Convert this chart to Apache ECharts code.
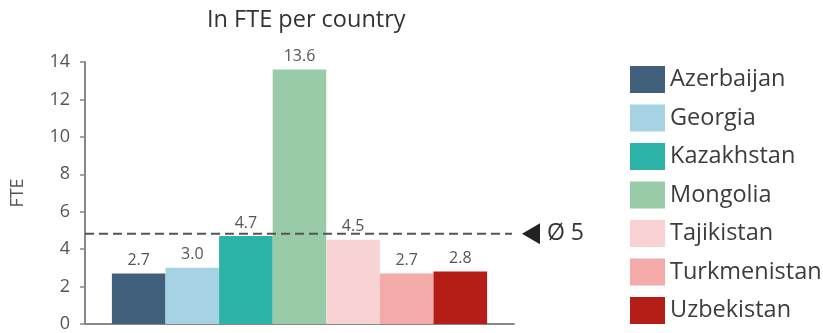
<!DOCTYPE html>
<html><head><meta charset="utf-8">
<script src="https://cdn.jsdelivr.net/npm/echarts@6/dist/echarts.min.js"></script>
<style>html,body{margin:0;padding:0;background:#fff}#c{width:823px;height:333px}</style>
</head><body><div id="c"></div>
<script>
const countries = ['Azerbaijan','Georgia','Kazakhstan','Mongolia','Tajikistan','Turkmenistan','Uzbekistan'];
const fteValues = [2.7, 3.0, 4.7, 13.6, 4.5, 2.7, 2.8];
const colors = ['#41607c','#a6d3e3','#2ab3a6','#9acba9','#f9d3d3','#f4aaa8','#b51d17'];
const yTicks = {min:0, max:14, interval:2};
const avg = fteValues.reduce((a,b)=>a+b,0)/fteValues.length;
const avgLabel = 'Ø ' + Math.round(avg);
const FONT = '"Open Sans", "Noto Sans", sans-serif';

const chart = echarts.init(document.getElementById('c'), null, {renderer:'canvas'});
const barSeries = countries.map((name,i)=>({
  name, type:'bar', xAxisIndex:0, yAxisIndex:0,
  data:[fteValues[i]], barWidth:53.6, barGap:'0%',
  itemStyle:{color:colors[i]},
  label:{show:true, position:'top', distance:5, fontFamily:FONT, fontSize:16, color:'#555',
    formatter:p=>p.value.toFixed(1)}
}));
chart.setOption({
  animation:false,
  textStyle:{fontFamily:FONT},
  title:{text:'In FTE per country', left:207, top:8, padding:0,
    textStyle:{fontFamily:FONT, fontSize:23.5, fontWeight:'normal', color:'#333'}},
  legend:{orient:'vertical', left:630, top:66, padding:0, itemWidth:35, itemHeight:27, itemGap:11.5,
    icon:'rect', data:countries,
    textStyle:{fontFamily:FONT, fontSize:23.5, color:'#3c3c3c'}},
  grid:[
    {left:85, right:309, top:62, bottom:8},
    {left:85, right:311, top:62, bottom:8}
  ],
  xAxis:[
    {type:'category', gridIndex:0, data:[''], axisLine:{lineStyle:{color:'#888', width:2}},
     axisTick:{show:false}, axisLabel:{show:false}},
    {type:'value', gridIndex:1, min:0, max:1, show:false}
  ],
  yAxis:[
    {type:'value', gridIndex:0, min:yTicks.min, max:yTicks.max, interval:yTicks.interval,
     name:'FTE', nameLocation:'middle', nameGap:58, nameRotate:90,
     nameTextStyle:{fontFamily:FONT, fontSize:18, color:'#555'},
     axisLine:{show:true, lineStyle:{color:'#888', width:2}},
     axisTick:{show:true, length:5, lineStyle:{color:'#888', width:1.5}},
     splitLine:{show:false},
     axisLabel:{margin:15, fontFamily:FONT, fontSize:18, color:'#555'}},
    {type:'value', gridIndex:1, min:yTicks.min, max:yTicks.max, show:false}
  ],
  series:[...barSeries,
    {name:'avg', type:'line', xAxisIndex:1, yAxisIndex:1, silent:true,
     data:[{value:[0,avg], symbol:'none'},
           {value:[1,avg], symbol:'triangle', symbolSize:[21,18], symbolRotate:90, symbolOffset:[19,0],
            itemStyle:{color:'#222'}}],
     showSymbol:true,
     lineStyle:{color:'#555', width:2, type:[9,5]},
     endLabel:{show:true, formatter:avgLabel, distance:35, fontFamily:FONT, fontSize:23, color:'#333'}
    }
  ]
});
</script></body></html>
